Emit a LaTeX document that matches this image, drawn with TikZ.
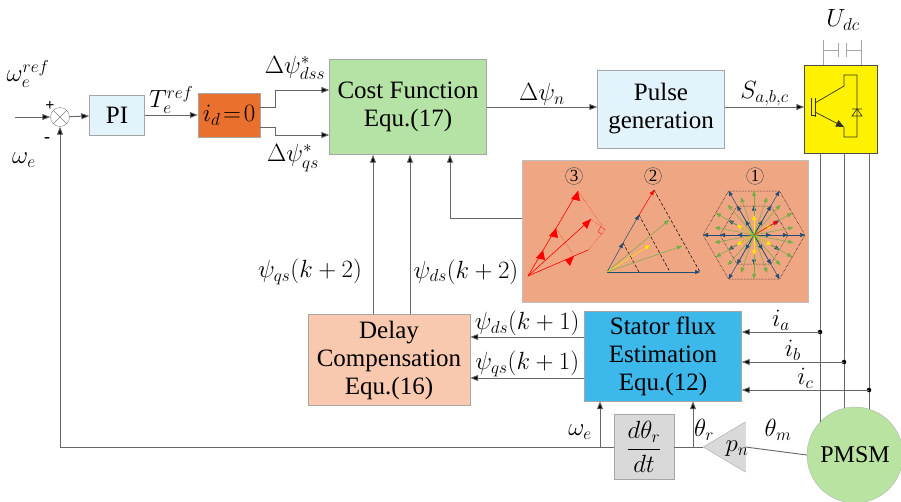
\documentclass[tikz,border=0pt]{standalone}
\usepackage{fontspec}
\setmainfont{Liberation Serif}
\usetikzlibrary{arrows.meta,shapes.geometric}
\definecolor{lblue}{HTML}{E3F3FB}
\definecolor{orng}{HTML}{E9702F}
\definecolor{grn}{HTML}{B5E3A5}
\definecolor{panel}{HTML}{EFA683}
\definecolor{peach}{HTML}{F8C9AE}
\definecolor{sblue}{HTML}{3DB8EA}
\definecolor{gry}{HTML}{D9D9D9}
\definecolor{pm}{HTML}{B9E3A0}
\definecolor{dblue}{HTML}{1F4E79}
\definecolor{agrn}{HTML}{70AD47}
\begin{document}
\begin{tikzpicture}[x=1pt,y=-1pt,
  blk/.style={draw=gray!70,minimum width=#1,align=center,font=\fontsize{25}{28}\selectfont,inner sep=2pt},
  ln/.style={draw=gray!80!black,line width=0.9pt},
  arr/.style={ln,-{Triangle[length=8pt,width=6pt,fill=black]}},
  lab/.style={font=\fontsize{25}{27}\selectfont,inner sep=1pt},
  dot/.style={circle,fill=black,inner sep=1.6pt}]
\useasboundingbox (0,0) rectangle (901,501);
% blocks
\node[blk=55pt,fill=lblue,minimum height=40pt] (pi) at (117,115) {PI};
\node[blk=62pt,fill=orng,minimum height=44pt,inner sep=0pt] (id) at (229,115) {$i_d\!=\!0$};
\node[blk=157pt,fill=grn,minimum height=95pt] (cf) at (408,107) {Cost Function\\Equ.(17)};
\node[blk=127pt,fill=lblue,minimum height=78pt] (pg) at (661,109) {Pulse\\generation};
\node[draw=gray!60!black,fill=yellow,minimum width=73pt,minimum height=88pt,inner sep=0] (inv) at (841,109) {};
\node[draw=gray!50,fill=panel,minimum width=286pt,minimum height=142pt,inner sep=0] (pan) at (665,231) {};
\node[blk=162pt,fill=peach,minimum height=91pt] (dc) at (389,360) {Delay\\Compensation\\Equ.(16)};
\node[blk=157pt,fill=sblue,minimum height=90pt] (sf) at (663,356) {Stator flux\\Estimation\\Equ.(12)};
\node[blk=60pt,fill=gry,minimum height=65pt,inner sep=0pt] (dt) at (644,447) {$\displaystyle\frac{d\theta_r}{dt}$};
\node[draw=gray!70,fill=gry,isosceles triangle,shape border rotate=180,minimum height=42pt,minimum width=50pt,inner sep=0,isosceles triangle stretches] (pn) at (731,447) {};
\node[lab] at (737,449) {$p_n$};
\node[circle,draw=gray!60,fill=pm,minimum size=96pt,inner sep=0,font=\fontsize{24}{26}\selectfont] (pmsm) at (855,455) {PMSM};
\node[circle,draw=gray,minimum size=19pt,inner sep=0] (sum) at (60,117) {};
\draw[gray] (sum.north west)--(sum.south east) (sum.north east)--(sum.south west);
% input and loop
\coordinate (in) at (15,117);
\draw[arr] (in) -- (sum);
\node[lab] at (28,74) {$\omega_e^{ref}$};
\node[font=\bfseries\fontsize{16}{16}\selectfont,inner sep=0pt] at (50,106) {+};
\node[font=\bfseries\fontsize{18}{18}\selectfont] at (47,140) {-};
\node[lab] at (24,160) {$\omega_e$};
\draw[arr] (sum) -- (pi);
\draw[arr] (pi) -- (id) node[midway,above,lab] {$T_e^{ref}$};
\coordinate (j1) at (275,90); \coordinate (j2) at (275,135);
\draw[arr] (id.east|-0,107) -| (j1) -- (cf.west|-j1);
\draw[arr] (id.east|-0,127) -| (j2) -- (cf.west|-j2);
\node[lab] at (295,68) {$\Delta\psi^*_{dss}$};
\node[lab] at (293,158) {$\Delta\psi^*_{qs}$};
\draw[arr] (cf.east|-0,107) -- (pg.west|-0,107) node[midway,above,lab] {$\Delta\psi_n$};
\draw[arr] (pg.east|-0,107) -- (inv.west|-0,107) node[midway,above,lab] {$S_{a,b,c}$};
% panel to cost
\draw[arr] (pan.west|-0,218) -| (cf.south-|450,0);
% delay to cost
\draw[arr] (dc.north-|373,0) -- (cf.south-|373,0);
\draw[arr] (dc.north-|410,0) -- (cf.south-|410,0);
\node[lab] at (310,272) {$\psi_{qs}(k+2)$};
\node[lab] at (466,272) {$\psi_{ds}(k+2)$};
% stator to delay
\draw[arr] (sf.west|-0,337) -- (dc.east|-0,337) node[midway,above,lab] {$\psi_{ds}(k+1)$};
\draw[arr] (sf.west|-0,378) -- (dc.east|-0,378) node[midway,above,lab] {$\psi_{qs}(k+1)$};
% inverter legs and currents
\foreach \x/\y/\n in {820/332/a,844/362/b,869/390/c}{
  \coordinate (d\n) at (\x,\y);
  \draw[ln] (inv.south-|\x,0) -- (\x,{455-sqrt(48*48-(\x-855)*(\x-855))});
  \node[dot] at (d\n) {};
  \draw[arr] (d\n) -- (sf.east|-d\n) node[midway,above,lab] {$i_\n$};
}
% bottom loop
\draw[ln] (pmsm.west) -- (pn.east);
\node[lab] at (778,430) {$\theta_m$};
\draw[ln] (pn.west) -- (dt.east);
\coordinate (tr) at (693,447);
\draw[arr] (tr) -- (sf.south-|tr);
\node[lab] at (704,430) {$\theta_r$};
\coordinate (we) at (600,447);
\draw[arr] (dt.west) -- (60,447) -- (sum);
\draw[arr] (we) -- (sf.south-|we);
\node[lab] at (580,432) {$\omega_e$};
% Udc
\node[lab] at (843,20) {$U_{dc}$};
\draw[ln,gray!70] (823,40)--(823,65) (861,40)--(861,65) (823,50)--(838,50) (846,50)--(861,50) (838,43)--(838,57) (846,43)--(846,57);
% IGBT symbol
\begin{scope}[draw=black!80,line width=0.7pt]
\draw (815,98)--(815,117) (811,98)--(811,115)--(815,115);
\draw (815,103)--(844,86)--(844,75)--(857,75)--(857,137)--(844,137)--(844,127);
\draw[-{Triangle[length=8pt,width=7pt]}] (815,112)--(844,127);
\draw (852,109)--(862,109) (857,109)--(852,116)--(862,116)--cycle;
\end{scope}
% panel drawings
\foreach \t/\x in {3/574,2/653,1/755}{\node[circle,draw=black!70,inner sep=1pt,font=\fontsize{17}{17}\selectfont] at (\x,176) {\t};}
\begin{scope}[red,line width=0.6pt]
\draw (528,276)--(578,191);
\draw (528,276)--(591,219);
\draw (528,276)--(588,250);
\fill (578,191)--++(-7,8)--++(9,2)--cycle;
\fill (556,228)--++(-7,8)--++(9,2)--cycle;
\fill (543,250)--++(-7,8)--++(9,2)--cycle;
\fill (591,219)--++(-9,4)--++(5,6)--cycle;
\fill (574,256)--++(-9,4)--++(5,6)--cycle;
\draw[thin,densely dotted] (578,191)--(605,230)--(591,219) (605,230)--(588,250) (556,228)--(574,256);
\draw[thin] (601,226)--(598,232)--(602,234);
\end{scope}
\begin{scope}[line width=0.5pt]
\draw[dblue,-{Triangle[length=5pt,width=4pt]}] (607,272)--(700,272);
\draw[dblue,-{Triangle[length=5pt,width=4pt]}] (607,272)--(623,243);
\draw[dblue,-{Triangle[length=5pt,width=4pt]}] (623,243)--(639,215);
\draw[red,-{Triangle[length=5pt,width=4pt]}] (639,215)--(654,190);
\draw[black,densely dashed] (654,190)--(700,272) (623,243)--(639,272) (639,215)--(670,272);
\draw[agrn,-{Triangle[length=5pt,width=4pt]}] (607,272)--(669,220);
\draw[agrn,-{Triangle[length=5pt,width=4pt]}] (607,272)--(682,246);
\draw[yellow!90!orange,-{Triangle[length=5pt,width=4pt]}] (607,272)--(650,245);
\end{scope}
\begin{scope}[shift={(754,235)},line width=0.5pt,-{Triangle[length=5pt,width=4pt]}]
\draw[densely dotted,-] (-51,0)--(-25.5,-44)--(25.5,-44)--(51,0)--(25.5,44)--(-25.5,44)--cycle;
\draw[densely dotted,-] (-17,-29)--(17,-29)--(34,0)--(17,29)--(-17,29)--(-34,0)--cycle;
\foreach \a in {0,60,...,300}{
  \draw[dblue] (0,0)--({51*cos(\a)},{51*sin(\a)});
  \draw[dblue] (0,0)--({34*cos(\a)},{34*sin(\a)});
  \draw[dblue] (0,0)--({17*cos(\a)},{17*sin(\a)});}
\foreach \a in {30,90,...,330}{
  \draw[dblue] (0,0)--({29.5*cos(\a)},{29.5*sin(\a)});
  \draw[agrn] (0,0)--({44*cos(\a)},{44*sin(\a)});
  \draw[yellow!90!orange] (0,0)--({20*cos(\a)},{20*sin(\a)});}
\foreach \a in {11,49,71,109,131,169,191,229,251,289,311,349}{\draw[agrn] (0,0)--({40*cos(\a)},{40*sin(\a)});}
\draw[red] (0,0)--(24,-14);
\end{scope}
\end{tikzpicture}
\end{document}
